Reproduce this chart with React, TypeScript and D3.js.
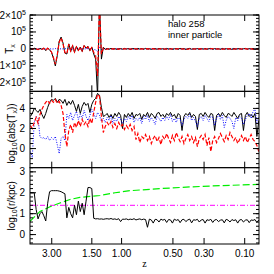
import React from 'react';
import * as d3 from 'd3';

// snapshot cosmic times (Gyr)
const snapTime = [
  1.0, 1.1, 1.2, 1.3, 1.4, 1.5, 1.6, 1.7, 1.8, 1.9,
  2.0, 2.1, 2.2, 2.3, 2.4, 2.5, 2.6, 2.7, 2.8, 2.9,
  3.0, 3.1, 3.2, 3.3, 3.4, 3.5, 3.6, 3.7, 3.8, 3.9,
  4.0, 4.1, 4.2, 4.3, 4.4, 4.5, 4.6, 4.7, 4.8, 4.9,
  5.0, 5.1, 5.2, 5.3, 5.4, 5.5, 5.6, 5.7, 5.8, 5.9,
  6.0, 6.1, 6.2, 6.3, 6.4, 6.5, 6.6, 6.7, 6.8, 6.9,
  7.0, 7.1, 7.2, 7.3, 7.4, 7.5, 7.6, 7.7, 7.8, 7.9,
  8.0, 8.1, 8.2, 8.3, 8.4, 8.5, 8.6, 8.7, 8.8, 8.9,
  9.0, 9.1, 9.2, 9.3, 9.4, 9.5, 9.6, 9.7, 9.8, 9.9,
  10.0, 10.1, 10.2, 10.3, 10.4, 10.5, 10.6, 10.7, 10.8, 10.9,
  11.0, 11.1, 11.2, 11.3, 11.4, 11.5, 11.6, 11.7, 11.8, 11.9,
  12.0, 12.1, 12.2, 12.3, 12.4, 12.5, 12.6, 12.7, 12.8, 12.9,
];

// Panel 1: T_x in units of 1e5
const txBlack = [
  0.02, -0.03, 0.04, 0.0, -0.05, 0.03, -0.02, 0.05, -0.1, 0.05,
  -0.05, -0.2, -0.55, -1.0, -0.4, 0.45, 0.7, 0.35, -0.25, -0.3,
  0.3, -0.15, 0.2, -0.2, 0.15, -0.1, 0.1, -0.15, 0.2, 0.05,
  0.15, -0.1, 0.1, -0.3, -0.6, -2.8, 2.8, -0.6, 0.1, -0.03,
  0.02, -0.02, 0.03, -0.01, 0.02, -0.03, 0.01, 0.02, -0.02, 0.03,
  -0.01, 0.02, -0.03, 0.02, 0.01, -0.02, 0.03, -0.01, 0.02, -0.02,
  0.03, -0.01, 0.02, -0.03, 0.01, 0.02, -0.02, 0.03, -0.01, 0.01,
  -0.02, 0.03, -0.01, 0.02, -0.03, 0.01, 0.02, -0.02, 0.03, -0.01,
  0.02, -0.03, 0.01, 0.03, -0.02, 0.01, -0.01, 0.02, -0.03, 0.02,
  -0.01, 0.02, -0.02, 0.01, 0.03, -0.03, 0.02, -0.01, 0.01, -0.02,
  0.03, -0.02, 0.01, -0.01, 0.02, -0.03, 0.03, -0.02, 0.01, 0.02,
  -0.02, 0.01, 0.03, -0.02, 0.02, -0.01, 0.02, -0.03, 0.01, 0.0,
];
const txRed = [
  0.03, -0.02, 0.03, 0.01, -0.04, 0.02, -0.03, 0.04, -0.08, 0.04,
  -0.04, -0.18, -0.5, -0.9, -0.35, 0.4, 0.65, 0.3, -0.22, -0.28,
  0.28, -0.12, 0.18, -0.18, 0.12, -0.08, 0.12, -0.12, 0.18, 0.04,
  0.12, -0.08, 0.08, -0.2, -0.4, -1.6, 2.6, -0.3, 0.05, -0.02,
  -0.01, 0.02, -0.02, 0.02, -0.01, 0.02, -0.02, 0.01, 0.02, -0.01,
  0.02, -0.01, 0.01, -0.02, 0.02, 0.01, -0.02, 0.02, -0.01, 0.01,
  -0.02, 0.02, -0.01, 0.01, 0.02, -0.02, 0.01, -0.01, 0.02, -0.02,
  0.01, -0.02, 0.02, -0.01, 0.01, 0.02, -0.01, 0.02, -0.02, 0.01,
  -0.01, 0.02, -0.02, 0.01, 0.02, -0.01, 0.01, -0.02, 0.02, -0.01,
  0.02, -0.01, 0.01, -0.02, 0.01, 0.02, -0.02, 0.01, -0.01, 0.02,
  -0.02, 0.01, -0.01, 0.02, -0.01, 0.02, -0.02, 0.01, 0.02, -0.01,
  0.01, -0.02, 0.02, -0.01, 0.01, 0.02, -0.02, 0.02, -0.01, 0.0,
];
const txBlue = [
  0.01, 0.0, 0.02, -0.01, 0.01, 0.02, 0.0, 0.01, -0.01, 0.02,
  0.01, -0.01, 0.0, 0.02, 0.01, -0.01, 0.01, 0.0, 0.02, -0.01,
  0.01, 0.0, -0.01, 0.01, 0.02, 0.0, -0.01, 0.01, 0.0, 0.01,
  0.02, -0.01, 0.01, -0.03, -0.06, -0.15, 0.15, -0.04, 0.01, 0.0,
  0.01, -0.01, 0.01, 0.0, -0.01, 0.01, 0.0, 0.01, -0.01, 0.01,
  0.0, 0.01, -0.01, 0.01, 0.0, -0.01, 0.01, 0.0, 0.01, -0.01,
  0.01, 0.0, -0.01, 0.01, 0.0, 0.01, -0.01, 0.0, 0.01, 0.0,
  -0.01, 0.01, 0.0, 0.01, -0.01, 0.0, 0.01, -0.01, 0.01, 0.0,
  0.01, -0.01, 0.0, 0.01, 0.0, -0.01, 0.01, 0.0, -0.01, 0.01,
  0.0, 0.01, -0.01, 0.01, 0.0, 0.01, -0.01, 0.0, 0.01, -0.01,
  0.01, 0.0, 0.01, -0.01, 0.0, 0.01, -0.01, 0.01, 0.0, 0.01,
  -0.01, 0.0, 0.01, 0.0, -0.01, 0.01, 0.0, -0.01, 0.01, 0.0,
];

// Panel 2: log10(abs(T_x))
const logTxBlack = [
  3.2, 3.5, 4.0, 3.8, 3.6, 3.9, 3.4, 3.0, 3.5, 4.1,
  4.6, 4.9, 4.8, 5.0, 4.6, 4.9, 4.8, 4.5, 4.9, 4.3,
  4.7, 4.4, 4.8, 4.3, 3.7, 4.4, 3.5, 4.2, 4.6, 4.3,
  4.5, 3.6, 4.4, 4.8, 5.0, 5.5, 5.3, 4.1, 3.2, 3.3,
  3.5, 3.1, 3.4, 3.0, 3.5, 3.2, 3.6, 3.3, 2.0, 3.4,
  3.1, 3.5, 3.2, 3.6, 3.0, 3.4, 3.3, 3.5, 2.9, 3.4,
  3.2, 3.6, 3.1, 3.5, 3.3, 3.0, 3.5, 3.6, 3.2, 3.4,
  3.1, 3.5, 3.3, 3.6, 3.2, 3.4, 3.0, 3.5, 3.3, 1.8,
  3.2, 3.5, 3.3, 3.6, 3.1, 3.4, 3.2, 1.9, 3.4, 3.5,
  3.2, 3.6, 3.3, 3.1, 3.5, 3.4, 1.8, 3.3, 3.5, 3.2,
  3.6, 3.3, 3.1, 3.5, 3.4, 3.2, 3.6, 3.3, 3.0, 3.4,
  3.5, 1.8, 3.3, 3.6, 3.2, 3.4, 3.1, 3.5, 1.2, 2.8,
];
const logTxRed = [
  2.3, 2.0, 2.6, 3.1, 2.5, 3.4, 3.9, 4.3, 4.6, 4.8,
  4.5, 4.8, 4.6, 4.9, 4.5, 4.7, 4.3, 3.5, 1.5, 0.2,
  1.8, 2.4, 1.6, 2.6, 2.1, 2.8, 2.2, 2.9, 2.4, 2.7,
  2.2, 3.0, 2.5, 3.6, 4.6, 5.4, 5.2, 3.2, 1.6, 2.2,
  2.6, 2.3, 2.7, 2.1, 2.5, 2.0, 2.6, 2.2, 2.4, 1.9,
  2.3, 2.0, 2.4, 1.8, 2.2, 0.9, 1.5, 0.6, 1.2, 1.0,
  1.4, 0.8, 1.2, 0.5, 1.0, 1.3, 0.7, 1.1, 0.4, 1.2,
  0.9, 1.5, 1.0, 0.6, 1.3, 0.8, 1.6, 1.1, 0.7, 1.2,
  0.5, 1.0, 1.4, 0.8, 1.2, 0.6, 1.1, 0.2, 1.0, 1.3,
  0.9, 1.4, 0.3, 1.1, -0.3, 0.8, 1.2, 0.6, 1.0, 1.5,
  1.1, 0.7, 1.3, 0.9, 1.6, 1.2, 0.8, 1.1, 0.5, 0.9,
  1.3, 0.8, 1.2, 0.6, 1.0, 1.4, 0.9, 0.7, 0.3, -0.3,
];
const logTxBlue = [
  -0.3, -0.9, 2.6, 3.2, 3.0, 1.2, 1.0, 1.1, 0.9, 1.2,
  0.8, 1.1, 0.9, 1.2, 0.4, -0.5, 1.0, 1.2, 0.8, 3.4,
  3.0, 3.6, 2.8, 3.3, 3.7, 2.9, 3.4, 3.0, 3.8, 3.2,
  2.8, 3.3, 3.9, 3.5, 3.0, 3.6, 3.3, 2.7, 3.0, 2.6,
  3.1, 2.8, 3.3, 2.5, 3.0, 2.7, 3.2, 2.9, 2.4, 3.0,
  2.7, 3.2, 2.9, 3.3, 2.6, 3.0, 2.8, 3.1, 2.5, 3.2,
  2.9, 3.3, 2.7, 3.1, 2.8, 2.4, 3.2, 3.0, 2.7, 3.1,
  2.8, 3.2, 2.9, 3.4, 2.7, 3.0, 2.6, 3.1, 2.9, 2.3,
  2.9, 3.2, 3.0, 3.4, 2.8, 3.1, 2.7, 2.2, 3.0, 3.2,
  2.8, 3.3, 3.0, 2.7, 3.2, 3.1, 2.3, 3.0, 3.4, 2.9,
  3.3, 2.1, 2.8, 3.2, 3.0, 2.7, 2.0, 3.1, 2.8, 3.2,
  3.0, 2.4, 2.9, 3.3, 3.5, 3.0, 3.7, 3.9, 2.6, 3.1,
];

// Panel 3: log10(r/kpc)
const logRBlack = [
  2.0, 2.0, 2.0, 1.2, 0.75, 1.0, 1.1, 0.9, 0.65, 1.5,
  2.05, 2.1, 2.1, 2.1, 2.1, 2.08, 2.05, 2.0, 1.95, 0.8,
  1.3, 1.0, 0.8, 1.4, 0.95, 1.6, 1.1, 1.5, 0.95, 1.6,
  2.25, 2.25, 2.2, 0.78, 0.75, 0.76, 0.74, 0.75, 0.73, 0.75,
  0.76, 0.74, 0.77, 0.73, 0.75, 0.72, 0.76, 0.62, 0.74, 0.73,
  0.75, 0.71, 0.74, 0.72, 0.76, 0.7, 0.73, 0.75, 0.71, 0.74,
  0.72, 0.35, 0.74, 0.7, 0.55, 0.73, 0.71, 0.6, 0.74, 0.69,
  0.73, 0.58, 0.72, 0.7, 0.55, 0.74, 0.68, 0.72, 0.57, 0.71,
  0.73, 0.62, 0.7, 0.74, 0.56, 0.71, 0.69, 0.73, 0.6, 0.7,
  0.72, 0.55, 0.71, 0.68, 0.73, 0.58, 0.7, 0.72, 0.62, 0.69,
  0.71, 0.56, 0.73, 0.69, 0.6, 0.72, 0.67, 0.71, 0.55, 0.7,
  0.72, 0.6, 0.69, 0.71, 0.57, 0.7, 0.68, 0.72, 0.58, 0.7,
];
const greenTime = [0.98, 1.5, 2.02, 2.54, 3.06, 3.58, 4.63, 5.41, 6.19, 7.75, 9.31, 10.88, 12.91];
const logRGreen = [0.63, 1.11, 1.33, 1.51, 1.68, 1.78, 1.87, 2.0, 2.1, 2.2, 2.28, 2.34, 2.4];
const magentaTime = [0.98, 12.91];
const logRMagenta = [1.4, 1.4];

const zTicks = [3, 1.5, 1, 0.5, 0.3, 0.1];
const zTickLabels = ['3.00', '1.50', '1.00', '0.50', '0.30', '0.10'];

const p1Major = [-2, -1, 0, 1, 2];
const p2Major = [0, 2, 4];
const p2Labels = ['0', '2', '4'];
const p3Major = [0, 1, 2, 3];
const p3Labels = ['0', '1', '2', '3'];

// flat LCDM (Om=0.3, h=0.7) age of the universe at redshift z, Gyr
function cosmicTime(z: number) {
  return 11.13 * Math.asinh(1.5275 * Math.pow(1 + z, -1.5));
}

const FONT = "'Liberation Sans', Arial, sans-serif";

export default function App() {
  const L = 30, R = 259, T = 15, B = 244;
  const ph = (B - T) / 3;
  const edges = [T, T + ph, T + 2 * ph, B];
  const x = d3.scaleLinear().domain([0.98, 12.91]).range([L, R]);
  const y1 = d3.scaleLinear().domain([-2.5, 2]).range([edges[1], edges[0]]);
  const y2 = d3.scaleLinear().domain([-1.9, 5.7]).range([edges[2], edges[1]]);
  const y3 = d3.scaleLinear().domain([-0.45, 3.2]).range([edges[3], edges[2]]);

  const gridLine = (ys: any) =>
    d3.line<number>().x((_, i) => x(snapTime[i])).y((d) => ys(d));
  const pairLine = (ys: any, ts: number[]) =>
    d3.line<number>().x((_, i) => x(ts[i])).y((d) => ys(d));

  const panels = [
    { y: y1, top: edges[0], bot: edges[1], minors: d3.range(-2.4, 2.01, 0.2), majors: p1Major },
    { y: y2, top: edges[1], bot: edges[2], minors: d3.range(-1.5, 5.51, 0.5), majors: p2Major },
    { y: y3, top: edges[2], bot: edges[3], minors: d3.range(-0.4, 3.21, 0.2), majors: p3Major },
  ];

  const renderAxes = (p: any, k: number) => (
    <g key={'ax' + k} stroke="#000" strokeWidth={1} fill="none">
      {zTicks.map((z, i) => {
        const xx = x(cosmicTime(z));
        return (
          <g key={i}>
            <line x1={xx} x2={xx} y1={p.top} y2={p.top + 6} />
            <line x1={xx} x2={xx} y1={p.bot} y2={p.bot - 6} />
          </g>
        );
      })}
      {p.minors.map((v: number, i: number) => (
        <g key={'m' + i}>
          <line x1={L} x2={L + 3} y1={p.y(v)} y2={p.y(v)} />
          <line x1={R} x2={R - 3} y1={p.y(v)} y2={p.y(v)} />
        </g>
      ))}
      {p.majors.map((v: number, i: number) => (
        <g key={'M' + i}>
          <line x1={L} x2={L + 6} y1={p.y(v)} y2={p.y(v)} />
          <line x1={R} x2={R - 6} y1={p.y(v)} y2={p.y(v)} />
        </g>
      ))}
      <rect x={L} y={p.top} width={R - L} height={p.bot - p.top} />
    </g>
  );

  const p1Label = (v: number) => {
    if (v === 0) return <tspan>0</tspan>;
    const coef = v === 1 ? '' : (v < 0 ? '\u2212' : '') + Math.abs(v) + '\u00d7';
    return (
      <>
        <tspan>{coef}10</tspan>
        <tspan dy={-4} fontSize={7}>5</tspan>
      </>
    );
  };

  return (
    <svg width={274} height={274} style={{ position: 'absolute', left: 0, top: 0, background: '#fff' }}
      fontFamily={FONT}>
      <defs>
        {panels.map((p, k) => (
          <clipPath id={'clip' + k} key={k}>
            <rect x={L} y={p.top} width={R - L} height={p.bot - p.top} />
          </clipPath>
        ))}
      </defs>

      {/* Panel 1 */}
      <g clipPath="url(#clip0)" fill="none">
        <path d={gridLine(y1)(txBlue) || ''} stroke="#0000ff" strokeWidth={1} strokeDasharray="1 1.5" />
        <path d={gridLine(y1)(txBlack) || ''} stroke="#000" strokeWidth={1} />
        <path d={gridLine(y1)(txRed) || ''} stroke="#ff0000" strokeWidth={1.2} strokeDasharray="4 2" />
      </g>
      {/* Panel 2 */}
      <g clipPath="url(#clip1)" fill="none">
        <path d={gridLine(y2)(logTxBlack) || ''} stroke="#000" strokeWidth={1} />
        <path d={gridLine(y2)(logTxBlue) || ''} stroke="#0000ff" strokeWidth={1} strokeDasharray="1 1.5" />
        <path d={gridLine(y2)(logTxRed) || ''} stroke="#ff0000" strokeWidth={1.2} strokeDasharray="4 2" />
      </g>
      {/* Panel 3 */}
      <g clipPath="url(#clip2)" fill="none">
        <path d={pairLine(y3, magentaTime)(logRMagenta) || ''} stroke="#ff00ff" strokeWidth={1} strokeDasharray="5 2 1 2" />
        <path d={pairLine(y3, greenTime)(logRGreen) || ''} stroke="#00ee00" strokeWidth={1.2} strokeDasharray="7 3" />
        <path d={gridLine(y3)(logRBlack) || ''} stroke="#000" strokeWidth={1} />
      </g>

      {panels.map(renderAxes)}

      {/* y tick labels */}
      <g fontSize={10} textAnchor="end" fill="#000">
        {p1Major.map((v, i) => (
          <text key={'a' + i} x={26} y={y1(v)} dy="0.35em">{p1Label(v)}</text>
        ))}
        {p2Major.map((v, i) => (
          <text key={'b' + i} x={25} y={y2(v)} dy="0.35em">{p2Labels[i]}</text>
        ))}
        {p3Major.map((v, i) => (
          <text key={'c' + i} x={25} y={y3(v)} dy="0.35em">{p3Labels[i]}</text>
        ))}
      </g>

      {/* x tick labels */}
      <g fontSize={10} textAnchor="middle" fill="#000">
        {zTicks.map((z, i) => (
          <text key={i} x={x(cosmicTime(z))} y={257}>{zTickLabels[i]}</text>
        ))}
      </g>
      <text x={(L + R) / 2} y={267} fontSize={10} textAnchor="middle" fontFamily="'Liberation Serif', serif">z</text>

      {/* y axis titles */}
      <g fontSize={10} textAnchor="middle" fill="#000">
        <text transform={`translate(13,${y1(0)}) rotate(-90)`}>
          T<tspan dy={2} fontSize={7}>x</tspan>
        </text>
        <text transform={`translate(15,${(edges[1] + edges[2]) / 2 + 4}) rotate(-90)`}>
          log<tspan dy={2} fontSize={7}>10</tspan><tspan dy={-2}>(abs(T</tspan><tspan dy={2} fontSize={7}>x</tspan><tspan dy={-2}>))</tspan>
        </text>
        <text transform={`translate(15,${(edges[2] + edges[3]) / 2}) rotate(-90)`}>
          log<tspan dy={2} fontSize={7}>10</tspan><tspan dy={-2}>(r/kpc)</tspan>
        </text>
      </g>

      {/* annotation */}
      <g fontSize={9.5} fill="#000">
        <text x={168} y={27}>halo 258</text>
        <text x={168} y={38}>inner particle</text>
      </g>
    </svg>
  );
}
